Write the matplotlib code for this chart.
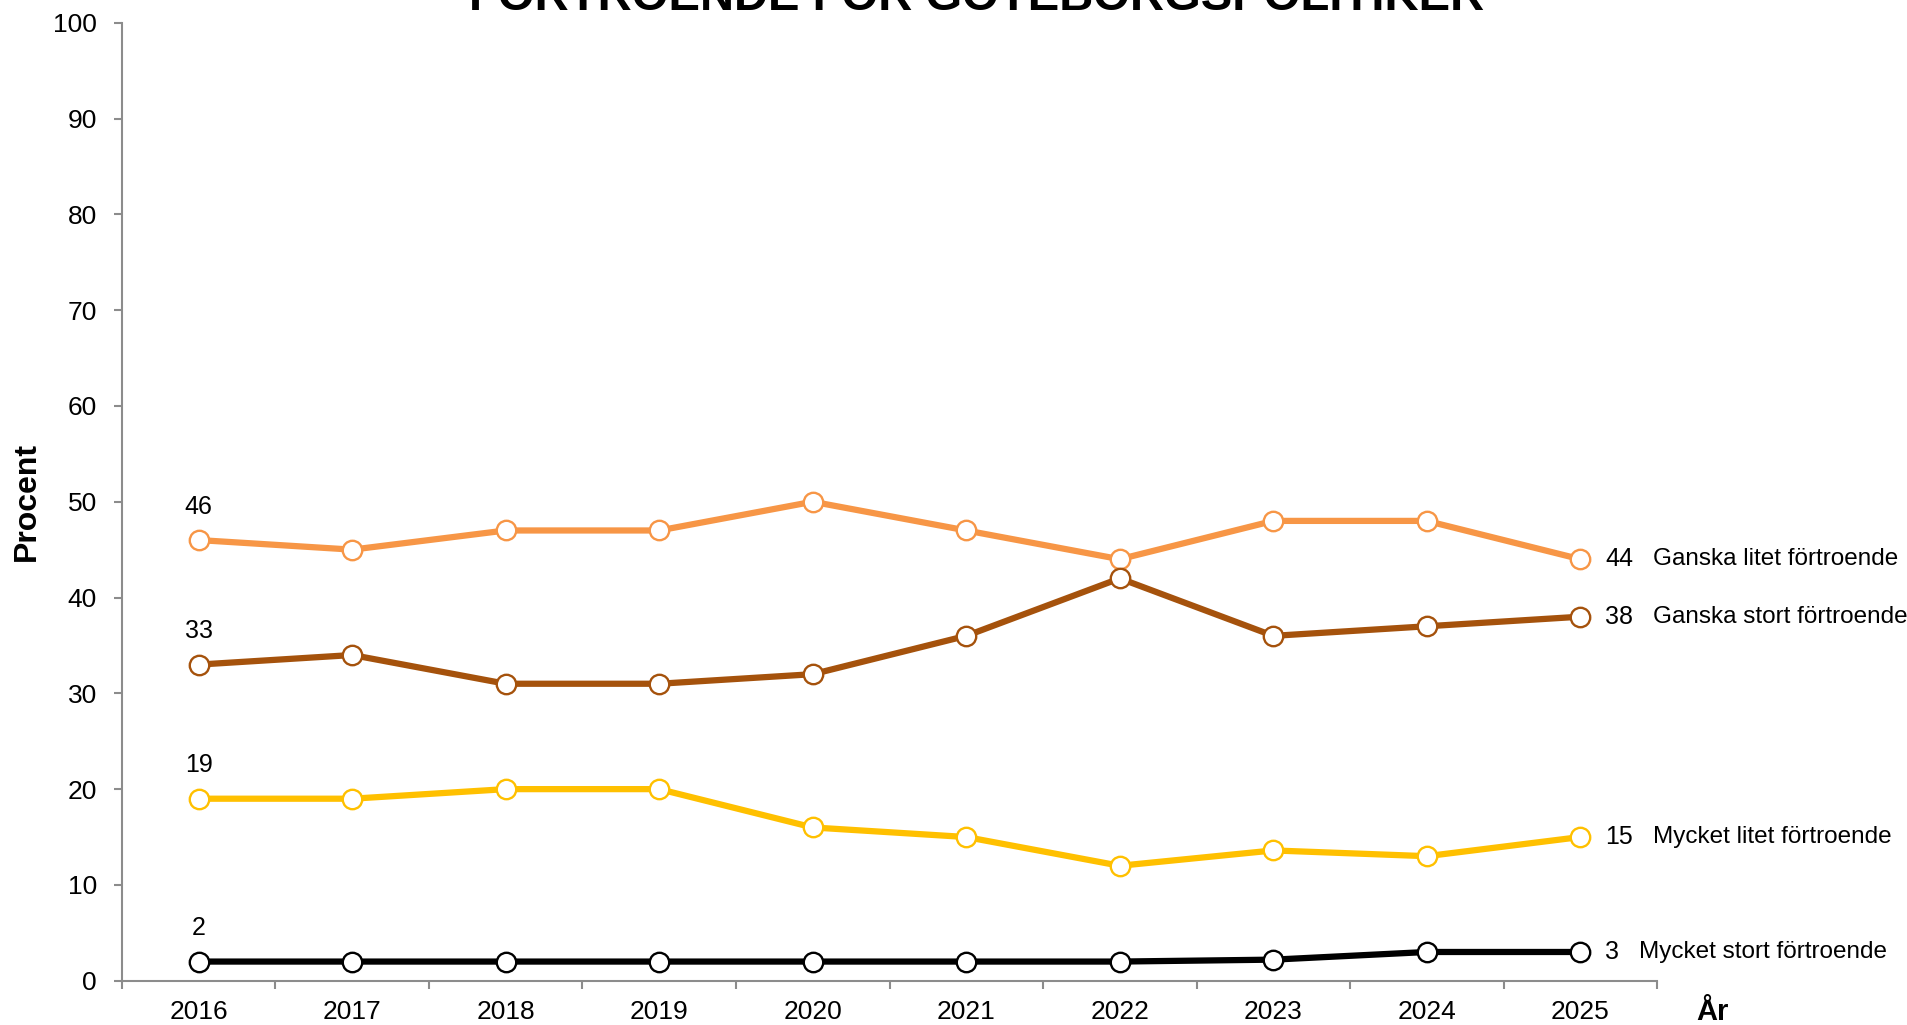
import matplotlib.pyplot as plt

plt.rcParams['font.family'] = ['Liberation Sans', 'DejaVu Sans']

years = [2016, 2017, 2018, 2019, 2020, 2021, 2022, 2023, 2024, 2025]
ganska_litet = [46, 45, 47, 47, 50, 47, 44, 48, 48, 44]
ganska_stort = [33, 34, 31, 31, 32, 36, 42, 36, 37, 38]
mycket_litet = [19, 19, 20, 20, 16, 15, 12, 13.6, 13, 15]
mycket_stort = [2, 2, 2, 2, 2, 2, 2, 2.2, 3, 3]

series = [
    ("Ganska litet förtroende", ganska_litet, "#F79646", 73),
    ("Ganska stort förtroende", ganska_stort, "#A5520C", 73),
    ("Mycket litet förtroende", mycket_litet, "#FFC000", 73),
    ("Mycket stort förtroende", mycket_stort, "#000000", 59),
]

fig = plt.figure(figsize=(19.08, 10.25), dpi=100)
ax = fig.add_axes([0.0639, 0.0432, 0.8046, 0.9346])

x = list(range(len(years)))
for name, vals, col, lab_off in series:
    ax.plot(x, vals, color=col, lw=4.5, marker='o', ms=14,
            mfc='white', mec=col, mew=1.7, solid_capstyle='round', zorder=3)
    # first value above the first point
    ax.annotate(f"{vals[0]:g}", (x[0], vals[0]), xytext=(0, 19), textcoords='offset points',
                ha='center', va='baseline', fontsize=18)
    # last value + name to the right
    ax.annotate(f"{vals[-1]:g}", (x[-1], vals[-1]), xytext=(18, 0), textcoords='offset points',
                ha='left', va='center', fontsize=18)
    ax.annotate(name, (x[-1], vals[-1]), xytext=(lab_off / 1.389, 0), textcoords='offset points',
                ha='left', va='center', fontsize=17.5)

ax.set_xlim(-0.5, len(years) - 0.5)
ax.set_ylim(0, 100)
ax.set_yticks(range(0, 101, 10))
ax.set_xticks(x)
ax.set_xticklabels([str(y) for y in years])
ax.set_xticks([i - 0.5 for i in range(len(years) + 1)], minor=True)

for s in ['top', 'right']:
    ax.spines[s].set_visible(False)
for s in ['left', 'bottom']:
    ax.spines[s].set_color('#8C8C8C')
    ax.spines[s].set_linewidth(1.5)

ax.tick_params(axis='y', direction='out', length=6, width=1.5, color='#8C8C8C',
               labelsize=19, pad=12)
ax.tick_params(axis='x', which='major', length=0, labelsize=19, pad=14)
ax.tick_params(axis='x', which='minor', direction='out', length=6, width=1.5, color='#8C8C8C')

ax.set_ylabel("Procent", fontsize=23, fontweight='bold', labelpad=8)
fig.text(0.889, 0.005, "År", fontsize=21, fontweight='bold', ha='left', va='baseline')
fig.text(0.512, 0.99, "FÖRTROENDE FÖR GÖTEBORGSPOLITIKER", fontsize=34,
         fontweight='bold', ha='center', va='baseline')

fig.savefig("out.png", dpi=100)
